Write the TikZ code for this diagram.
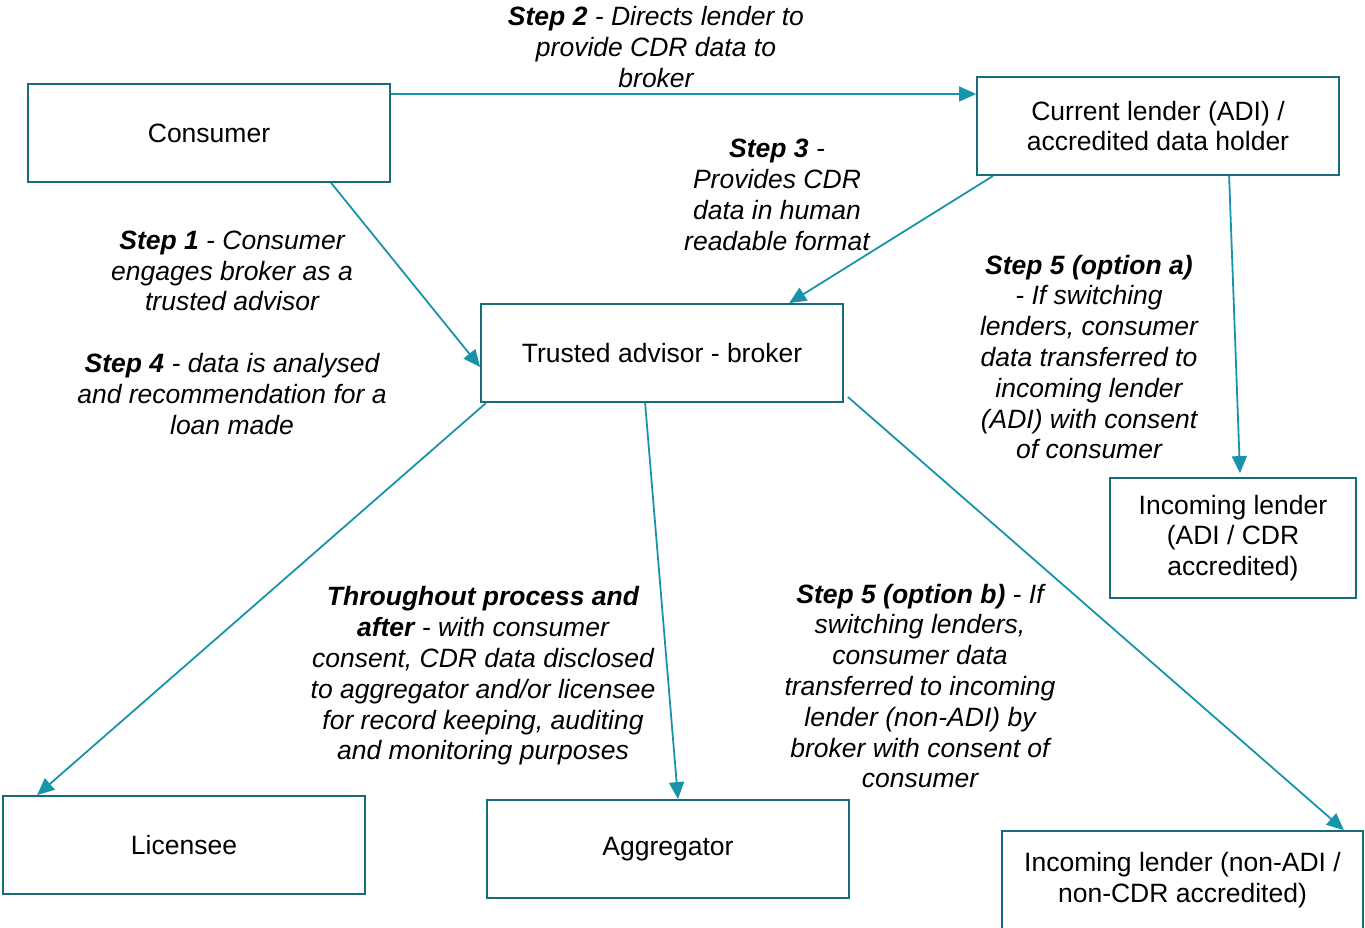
\documentclass[tikz,border=0pt]{standalone}
\usepackage{fontspec}
\setmainfont{Liberation Sans}
\usetikzlibrary{arrows.meta,calc}
\definecolor{boxc}{RGB}{22,108,124}
\definecolor{arrc}{RGB}{24,148,170}
\tikzset{
  box/.style={draw=boxc, line width=1.8pt, minimum width=362pt, minimum height=98pt, inner sep=0pt, align=center, font=\fontsize{26.5}{30.8}\selectfont},
  lbl/.style={align=center, inner sep=0pt, font=\fontsize{26.5}{30.8}\selectfont\itshape},
  conn/.style={draw=arrc, line width=1.8pt, -{Triangle[length=17pt,width=15pt]}}
}
\begin{document}
\begin{tikzpicture}[x=1pt,y=-1pt]
\useasboundingbox (0,0) rectangle (1365,928);
\node[box] (consumer) at (209,133) {Consumer};
\node[box] (lender) at (1158,126) {Current lender (ADI) /\\accredited data holder};
\node[box] (advisor) at (662,353) {Trusted advisor - broker};
\node[box, minimum width=246pt, minimum height=120pt] (incadi) at (1233,538) {Incoming lender\\(ADI / CDR\\accredited)};
\node[box] (licensee) at (184,845) {Licensee};
\node[box] (aggregator) at (668,849) {Aggregator};
\node[box, minimum width=361pt] (nonadi) at (1182.5,880) {Incoming lender (non-ADI /\\non-CDR accredited)};

\draw[conn] ([yshift=39pt]consumer.east) -- ([yshift=32pt]lender.west);
\draw[conn] ([xshift=304pt]consumer.south west) -- ([yshift=-14pt]advisor.west);
\draw[conn] ([xshift=17pt]lender.south west) -- ([xshift=309pt]advisor.north west);
\draw[conn] ([xshift=253pt]lender.south west) -- ([xshift=7pt,yshift=4pt]incadi.north);
\draw[conn] ([xshift=6pt]advisor.south west) -- ([xshift=35pt]licensee.north west);
\draw[conn] ([xshift=165pt]advisor.south west) -- ([xshift=10pt]aggregator.north);
\draw[conn] ([yshift=-44pt,xshift=4pt]advisor.east) -- ([xshift=-20pt]nonadi.north east);

\node[lbl] (l2) at (656,47) {\textbf{Step 2} - Directs lender to\\provide CDR data to\\broker};
\node[lbl] (l3) at (777,195) {\textbf{Step 3} -\\Provides CDR\\data in human\\readable format};
\node[lbl] (l1) at (232,271) {\textbf{Step 1} - Consumer\\engages broker as a\\trusted advisor};
\node[lbl] (l4) at (232,394) {\textbf{Step 4} - data is analysed\\and recommendation for a\\loan made};
\node[lbl] (l5a) at (1089,357) {\textbf{Step 5 (option a)}\\- If switching\\lenders, consumer\\data transferred to\\incoming lender\\(ADI) with consent\\of consumer};
\node[lbl] (lt) at (483,676) {\textbf{Throughout process and}\\\textbf{after} - with consumer\\consent, CDR data disclosed\\to aggregator and/or licensee\\for record keeping, auditing\\and monitoring purposes};
\node[lbl] (l5b) at (920,686) {\textbf{Step 5 (option b)} - If\\switching lenders,\\consumer data\\transferred to incoming\\lender (non-ADI) by\\broker with consent of\\consumer};
\end{tikzpicture}
\end{document}
